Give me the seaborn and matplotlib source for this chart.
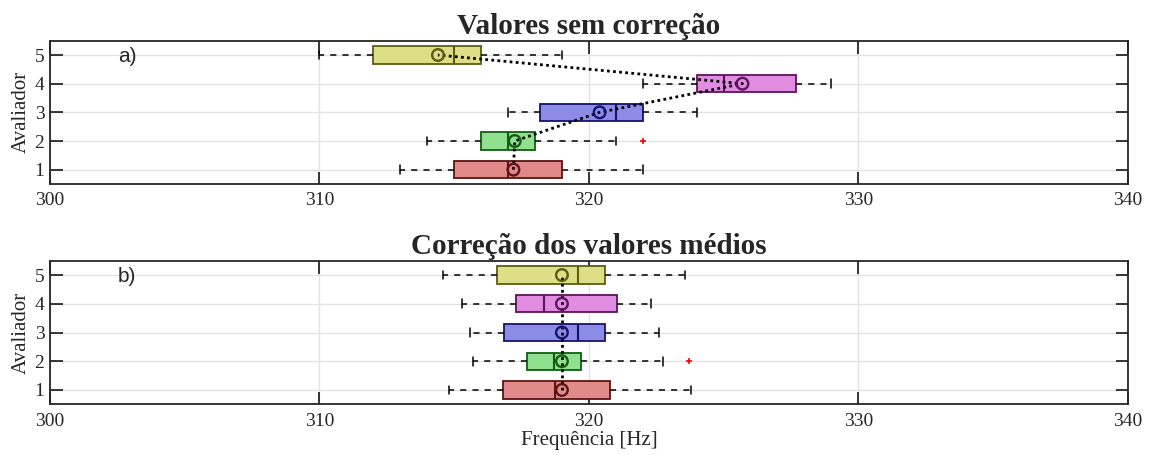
import numpy as np
import seaborn as sns
import matplotlib.pyplot as plt

# ---------------- data ----------------
avaliadores = [1, 2, 3, 4, 5]

# a) raw values
a_whislo = [313.0, 314.0, 317.0, 322.0, 310.0]
a_q1     = [315.0, 316.0, 318.2, 324.0, 312.0]
a_med    = [317.0, 317.0, 321.0, 325.0, 315.0]
a_q3     = [319.0, 318.0, 322.0, 327.7, 316.0]
a_whishi = [322.0, 321.0, 324.0, 329.0, 319.0]
a_mean   = [317.2, 317.25, 320.4, 325.7, 314.4]
a_fliers = [[], [322.0], [], [], []]

# b) mean-corrected values
b_whislo = [314.8, 315.7, 315.6, 315.3, 314.6]
b_q1     = [316.8, 317.7, 316.85, 317.3, 316.6]
b_med    = [318.75, 318.7, 319.6, 318.35, 319.6]
b_q3     = [320.8, 319.7, 320.6, 321.05, 320.6]
b_whishi = [323.8, 322.75, 322.6, 322.3, 323.55]
b_mean   = [319.0, 319.0, 319.0, 319.0, 319.0]
b_fliers = [[], [323.7], [], [], []]

fill_colors = ["#e08a8a", "#8fe08f", "#8c8ce6", "#e08ce0", "#dede86"]
edge_colors = ["#5c1414", "#145c14", "#14146e", "#5c145c", "#5c5c14"]

sns.set_theme(style="ticks")
plt.rcParams["font.family"] = ["Liberation Serif", "DejaVu Serif"]


def box_stats(lo, q1, med, q3, hi, mean, fliers):
    stats = []
    for i in range(len(lo)):
        stats.append(dict(whislo=lo[i], q1=q1[i], med=med[i], q3=q3[i],
                          whishi=hi[i], mean=mean[i], fliers=fliers[i]))
    return stats


def draw_panel(ax, stats, means, title, tag):
    bp = ax.bxp(stats, positions=avaliadores, orientation="horizontal",
                widths=0.6, capwidths=0.3, patch_artist=True, showmeans=False,
                whiskerprops=dict(color="black", linestyle=(0, (4, 4)), linewidth=1.1),
                capprops=dict(color="black", linewidth=1.1),
                flierprops=dict(marker="+", markeredgecolor="red", markersize=4,
                                markeredgewidth=1.2))
    for i, box in enumerate(bp["boxes"]):
        box.set_facecolor(fill_colors[i])
        box.set_edgecolor(edge_colors[i])
        box.set_linewidth(1.3)
        box.set_zorder(2)
        bp["medians"][i].set_color(edge_colors[i])
        bp["medians"][i].set_linewidth(1.5)

    # dotted line joining means
    sns.lineplot(x=means, y=avaliadores, sort=False, estimator=None, ax=ax,
                 color="black", linestyle=(0, (1, 1.2)), linewidth=2, zorder=4)
    sns.scatterplot(x=means, y=avaliadores, hue=avaliadores, palette=edge_colors,
                    ax=ax, marker="o", s=70, linewidth=1.7,
                    legend=False, zorder=5)
    ax.collections[-1].set_facecolor("none")
    ax.collections[-1].set_edgecolors(edge_colors)

    ax.set_xlim(300, 340)
    ax.set_ylim(0.5, 5.5)
    ax.set_xticks([300, 310, 320, 330, 340])
    ax.set_yticks(avaliadores)
    ax.set_yticklabels([str(a) for a in avaliadores])
    ax.grid(True, color="#e2e2e2", linewidth=1)
    ax.set_axisbelow(True)
    ax.tick_params(direction="in", length=9, width=1.3, labelsize=14,
                   top=True, right=True, colors="#262626", labelcolor="#262626")
    ax.tick_params(axis="x", pad=6)
    ax.tick_params(axis="y", pad=4)
    for sp in ax.spines.values():
        sp.set_color("#262626")
        sp.set_linewidth(1.3)
    ax.set_ylabel("Avaliador", fontsize=15, color="#262626", labelpad=3)
    ax.set_title(title, fontsize=21, fontweight="bold", pad=5)
    ax.text(0.063, 0.888, tag, transform=ax.transAxes, fontsize=15,
            family="Liberation Sans", va="center", ha="left")


fig = plt.figure(figsize=(11.49, 4.55), dpi=100)
ax1 = fig.add_axes([0.0435, 0.5956, 0.938, 0.315])
ax2 = fig.add_axes([0.0435, 0.1114, 0.938, 0.3156])

draw_panel(ax1, box_stats(a_whislo, a_q1, a_med, a_q3, a_whishi, a_mean, a_fliers),
           a_mean, "Valores sem correção", "a)")
draw_panel(ax2, box_stats(b_whislo, b_q1, b_med, b_q3, b_whishi, b_mean, b_fliers),
           b_mean, "Correção dos valores médios", "b)")
ax2.set_xlabel("Frequência [Hz]", fontsize=15, color="#262626", labelpad=1)

fig.savefig("out.png", dpi=100)
